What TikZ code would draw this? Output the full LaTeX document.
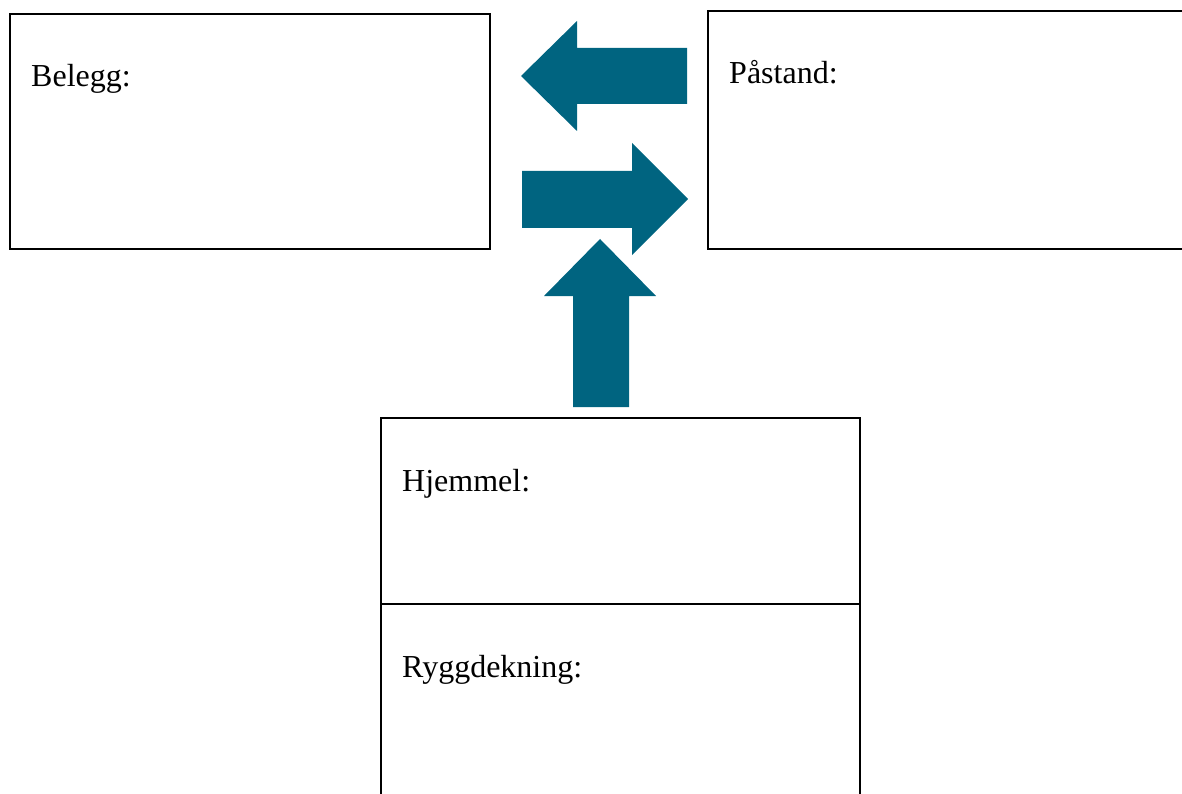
\documentclass[tikz,border=0pt]{standalone}
\usepackage{fontspec}
\setmainfont{Liberation Serif}
\definecolor{arrowblue}{RGB}{0,100,128}
\begin{document}
\begin{tikzpicture}[x=1pt,y=-1pt,
  box/.style={draw=black,line width=1.6pt},
  lbl/.style={anchor=base west,inner sep=0pt,font=\fontsize{32}{37}\selectfont},
  blockarrow/.style={fill=arrowblue,draw=none}]
\useasboundingbox (0,0) rectangle (1182,794);
% boxes
\draw[box] (10,14) rectangle (490,249);
\draw[box] (1190,11) -- (708,11) -- (708,249) -- (1190,249);
\draw[box] (381,800) -- (381,418) -- (860,418) -- (860,800);
\draw[box] (381,604) -- (860,604);
% labels
\node[lbl] (belegg) at (31,87) {Belegg:};
\node[lbl] (pastand) at (729,84) {Påstand:};
\node[lbl] (hjemmel) at (402,491) {Hjemmel:};
\node[lbl] (rygg) at (402,677) {Ryggdekning:};
% block arrows
\fill[blockarrow] (521,76) -- (577,21) -- (577,48) -- (687,48) -- (687,104) -- (577,104) -- (577,131) -- cycle;
\fill[blockarrow] (688,199) -- (632,143) -- (632,171) -- (522,171) -- (522,228) -- (632,228) -- (632,255) -- cycle;
\fill[blockarrow] (600,239) -- (656,296) -- (629,296) -- (629,407) -- (573,407) -- (573,296) -- (544,296) -- cycle;
\end{tikzpicture}
\end{document}
